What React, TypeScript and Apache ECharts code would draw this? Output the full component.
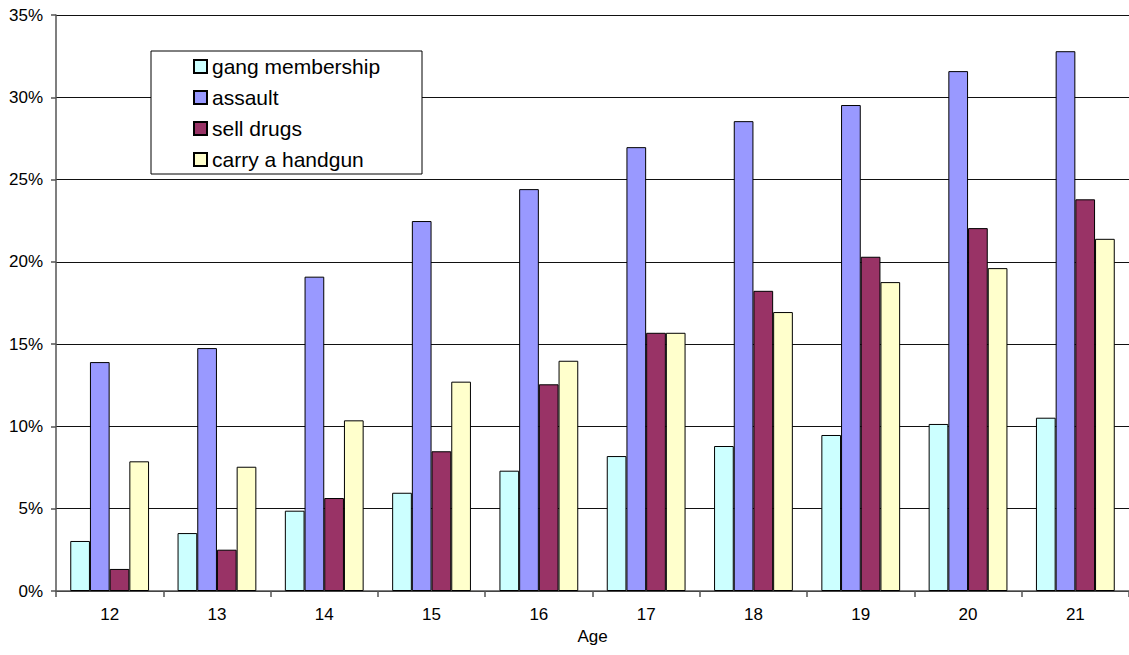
import React, { useEffect, useRef } from "react";
import * as echarts from "echarts";

const ages = ["12", "13", "14", "15", "16", "17", "18", "19", "20", "21"];
const gangMembership = [3.04, 3.52, 4.88, 5.97, 7.31, 8.2, 8.81, 9.48, 10.15, 10.53];
const assault = [13.91, 14.76, 19.1, 22.48, 24.42, 26.97, 28.55, 29.53, 31.59, 32.8];
const sellDrugs = [1.34, 2.51, 5.65, 8.49, 12.56, 15.69, 18.24, 20.31, 22.05, 23.8];
const carryHandgun = [7.88, 7.55, 10.37, 12.72, 13.99, 15.69, 16.95, 18.77, 19.62, 21.4];
const seriesNames = ["gang membership", "assault", "sell drugs", "carry a handgun"];
const seriesColors = ["#CCFFFF", "#9999FF", "#993366", "#FFFFCC"];

const FONT = "'Liberation Sans', Arial, sans-serif";

export default function App() {
  const ref = useRef<HTMLDivElement>(null);
  useEffect(() => {
    document.body.style.margin = "0";
    const chart = echarts.init(ref.current!, null, { renderer: "svg" });
    const data = [gangMembership, assault, sellDrugs, carryHandgun];
    chart.setOption({
      animation: false,
      backgroundColor: "#fff",
      textStyle: { fontFamily: FONT },
      grid: { left: 56, top: 15, bottom: 64, right: -5, containLabel: false },
      xAxis: {
        type: "category",
        data: ages,
        name: "Age",
        nameLocation: "middle",
        nameGap: 37,
        nameTextStyle: { fontSize: 17, color: "#000", fontFamily: FONT },
        axisLine: { lineStyle: { color: "#555", width: 1.5 } },
        axisTick: { show: true, length: 6, lineStyle: { color: "#555", width: 1.5 } },
        axisLabel: { fontSize: 17, color: "#000", margin: 15, fontFamily: FONT },
      },
      yAxis: {
        type: "value",
        min: 0,
        max: 35,
        interval: 5,
        axisLine: { show: true, lineStyle: { color: "#555", width: 1.5 } },
        axisTick: { show: true, length: 5, lineStyle: { color: "#555", width: 1.5 } },
        axisLabel: { formatter: "{value}%", fontSize: 17, color: "#000", margin: 13, fontFamily: FONT },
        splitLine: { show: true, lineStyle: { color: "#111", width: 1 } },
      },
      legend: {
        orient: "vertical",
        left: 193,
        top: 56,
        padding: 0,
        itemWidth: 13,
        itemHeight: 13,
        itemGap: 10,
        icon: "rect",
        data: seriesNames,
        textStyle: { fontSize: 21, color: "#000", fontFamily: FONT },
        z: 10,
      },
      graphic: [
        {
          type: "rect",
          z: 5,
          shape: { x: 151, y: 51, width: 271, height: 123 },
          style: { fill: "#fff", stroke: "#000", lineWidth: 1 },
        },
      ],
      series: data.map((d, i) => ({
        name: seriesNames[i],
        type: "bar",
        data: d,
        barWidth: 19.7,
        barGap: "0%",
        itemStyle: { color: seriesColors[i], borderColor: "#000", borderWidth: 1 },
      })),
    });
    return () => chart.dispose();
  }, []);
  return <div ref={ref} style={{ width: 1129, height: 655, position: "absolute", left: 0, top: 0 }} />;
}
